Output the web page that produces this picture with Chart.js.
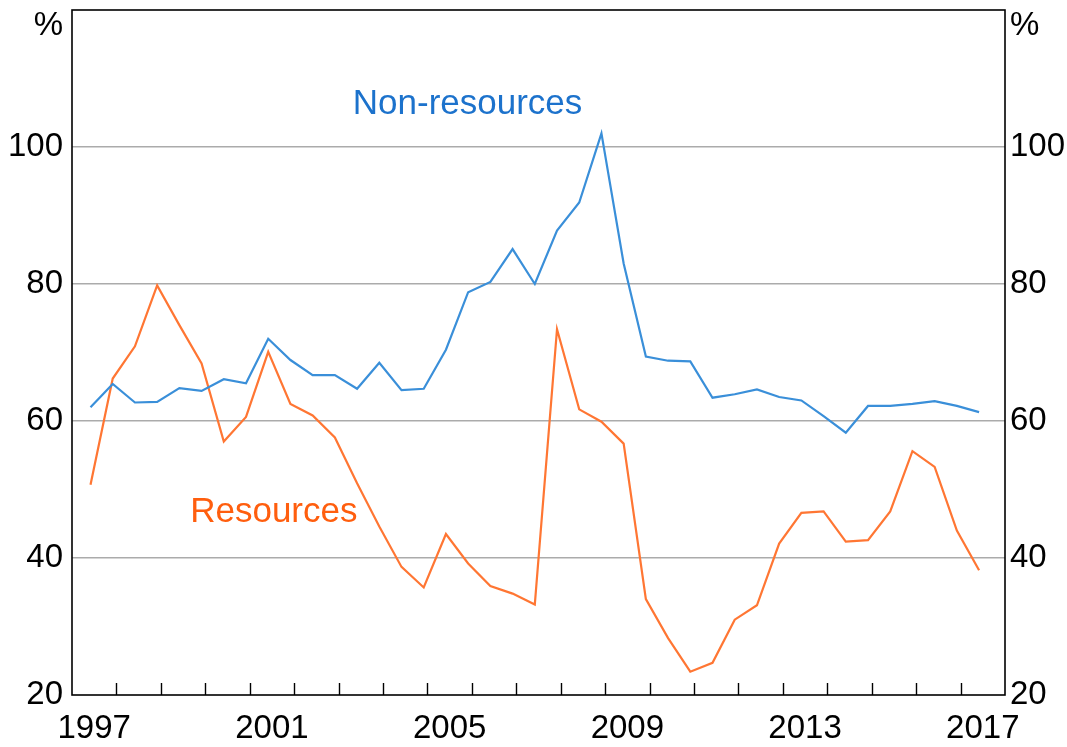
<!DOCTYPE html>
<html>
<head>
<meta charset="utf-8">
<title>Resources and non-resources</title>
<script src="https://cdn.jsdelivr.net/npm/chart.js@4/dist/chart.umd.min.js"></script>
<style>
    html, body { margin: 0; padding: 0; background: #fff; }
    #wrap { width: 1067px; height: 747px; }
</style>
</head>
<body>
<div id="wrap"><canvas id="mainChart" width="1067" height="747"></canvas></div>
<script>
// Half-yearly observations (June and December)
const dates = [
    '1997-06', '1997-12', '1998-06', '1998-12', '1999-06', '1999-12', '2000-06', '2000-12',
    '2001-06', '2001-12', '2002-06', '2002-12', '2003-06', '2003-12', '2004-06', '2004-12',
    '2005-06', '2005-12', '2006-06', '2006-12', '2007-06', '2007-12', '2008-06', '2008-12',
    '2009-06', '2009-12', '2010-06', '2010-12', '2011-06', '2011-12', '2012-06', '2012-12',
    '2013-06', '2013-12', '2014-06', '2014-12', '2015-06', '2015-12', '2016-06', '2016-12',
    '2017-06'
];

const nonResources = [
    62.0, 65.4, 62.7, 62.8, 64.8, 64.4, 66.1, 65.5, 72.0, 68.9, 66.7, 66.7, 64.7, 68.5,
    64.5, 64.7, 70.4, 78.8, 80.3, 85.1, 80.0, 87.8, 91.9, 102.0, 83.0, 69.4, 68.8, 68.7,
    63.4, 63.9, 64.6, 63.5, 63.0, 60.7, 58.3, 62.2, 62.2, 62.5, 62.9, 62.2, 61.3
];

const resources = [
    50.7, 66.2, 70.9, 79.8, 74.0, 68.4, 57.0, 60.6, 70.1, 62.5, 60.8, 57.6, 50.9, 44.6,
    38.7, 35.7, 43.5, 39.2, 35.9, 34.8, 33.2, 73.4, 61.7, 59.9, 56.7, 34.0, 28.3, 23.4,
    24.7, 31.0, 33.1, 42.1, 46.6, 46.8, 42.4, 42.6, 46.8, 55.6, 53.3, 44.0, 38.2
];

// Axis settings
const yMin = 20;
const yMax = 120;
const yTicks = [20, 40, 60, 80, 100];
const yearLabels = [1997, 2001, 2005, 2009, 2013, 2017];
const firstYear = 1997;
const lastYear = 2018;

// Series labels placed on the chart (x in years, y in %)
const seriesLabels = [
    { text: 'Non-resources', x: 2003.32, y: 106.3, color: '#1c72cc' },
    { text: 'Resources', x: 1999.66, y: 46.7, color: '#ff5e0e' }
];

const FONT = 'Arial, "Liberation Sans", sans-serif';
const BLUE = '#3a8fd9';
const ORANGE = '#ff7633';

// Convert 'YYYY-MM' to a decimal year (start of month)
function toYear(d) {
    const parts = d.split('-');
    return parseInt(parts[0]) + (parseInt(parts[1]) - 1) / 12;
}

function toPoints(values) {
    return values.map((v, i) => ({ x: toYear(dates[i]), y: v }));
}

// Fix axis size and drop the label overhang padding
function fitAxis(width) {
    return function(scale) {
        scale.width = width;
        scale.paddingTop = 0;
        scale.paddingBottom = 0;
    };
}

// Frame, inward year ticks, % units and line labels
const decorPlugin = {
    id: 'decor',
    afterDraw(chart) {
        const ctx = chart.ctx;
        const area = chart.chartArea;
        const x = chart.scales.x;
        const y = chart.scales.y;

        ctx.save();
        ctx.strokeStyle = '#000';
        ctx.lineWidth = 1.6;
        ctx.strokeRect(area.left, area.top, area.right - area.left, area.bottom - area.top);

        // Year ticks pointing into the plot
        ctx.lineWidth = 1.4;
        ctx.beginPath();
        for (let yr = firstYear + 1; yr < lastYear; yr++) {
            const px = Math.round(x.getPixelForValue(yr)) + 0.5;
            ctx.moveTo(px, area.bottom);
            ctx.lineTo(px, area.bottom - 12);
        }
        ctx.stroke();

        // Units
        ctx.fillStyle = '#000';
        ctx.font = '33px ' + FONT;
        ctx.textBaseline = 'middle';
        const unitY = y.getPixelForValue(yMax) + 16;
        ctx.textAlign = 'right';
        ctx.fillText('%', area.left - 9, unitY);
        ctx.textAlign = 'left';
        ctx.fillText('%', area.right + 5, unitY);

        // Series labels
        ctx.font = '35px ' + FONT;
        seriesLabels.forEach(l => {
            ctx.fillStyle = l.color;
            ctx.fillText(l.text, x.getPixelForValue(l.x), y.getPixelForValue(l.y));
        });
        ctx.restore();
    }
};

const ctx = document.getElementById('mainChart').getContext('2d');

const mainChart = new Chart(ctx, {
    type: 'line',
    data: {
        datasets: [
            {
                label: 'Non-resources',
                data: toPoints(nonResources),
                borderColor: BLUE,
                borderWidth: 2.2,
                pointRadius: 0,
                tension: 0,
                xAxisID: 'x',
                yAxisID: 'y'
            },
            {
                label: 'Resources',
                data: toPoints(resources),
                borderColor: ORANGE,
                borderWidth: 2.2,
                pointRadius: 0,
                tension: 0,
                xAxisID: 'x',
                yAxisID: 'y'
            }
        ]
    },
    options: {
        responsive: false,
        animation: false,
        devicePixelRatio: 1,
        layout: { padding: { top: 10, left: 0, right: 0, bottom: 0 } },
        plugins: {
            legend: { display: false },
            tooltip: { enabled: false }
        },
        scales: {
            x: {
                type: 'linear',
                min: firstYear,
                max: lastYear,
                display: false
            },
            // Label axis shifted half a year so labels sit mid-year
            xLabels: {
                type: 'linear',
                position: 'bottom',
                min: firstYear - 0.5,
                max: lastYear - 0.5,
                grid: { display: false, drawTicks: false },
                border: { display: false },
                afterBuildTicks(scale) {
                    scale.ticks = yearLabels.map(v => ({ value: v }));
                },
                afterFit(scale) {
                    scale.height = 52;
                    scale.paddingLeft = 0;
                    scale.paddingRight = 0;
                },
                ticks: {
                    autoSkip: false,
                    maxRotation: 0,
                    padding: 14,
                    color: '#000',
                    font: { family: FONT, size: 33 },
                    callback: v => String(v)
                }
            },
            y: {
                position: 'left',
                min: yMin,
                max: yMax,
                afterBuildTicks(scale) {
                    scale.ticks = yTicks.map(v => ({ value: v }));
                },
                afterFit: fitAxis(72),
                grid: {
                    drawTicks: false,
                    color: ctx => (ctx.tick && ctx.tick.value === yMin) ? 'rgba(0,0,0,0)' : '#ababab',
                    lineWidth: 1.5
                },
                border: { display: false },
                ticks: {
                    padding: 9,
                    color: '#000',
                    font: { family: FONT, size: 33 }
                }
            },
            yRight: {
                position: 'right',
                min: yMin,
                max: yMax,
                afterBuildTicks(scale) {
                    scale.ticks = yTicks.map(v => ({ value: v }));
                },
                afterFit: fitAxis(62),
                grid: { display: false, drawTicks: false },
                border: { display: false },
                ticks: {
                    padding: 5,
                    color: '#000',
                    font: { family: FONT, size: 33 }
                }
            }
        }
    },
    plugins: [decorPlugin]
});
</script>
</body>
</html>
